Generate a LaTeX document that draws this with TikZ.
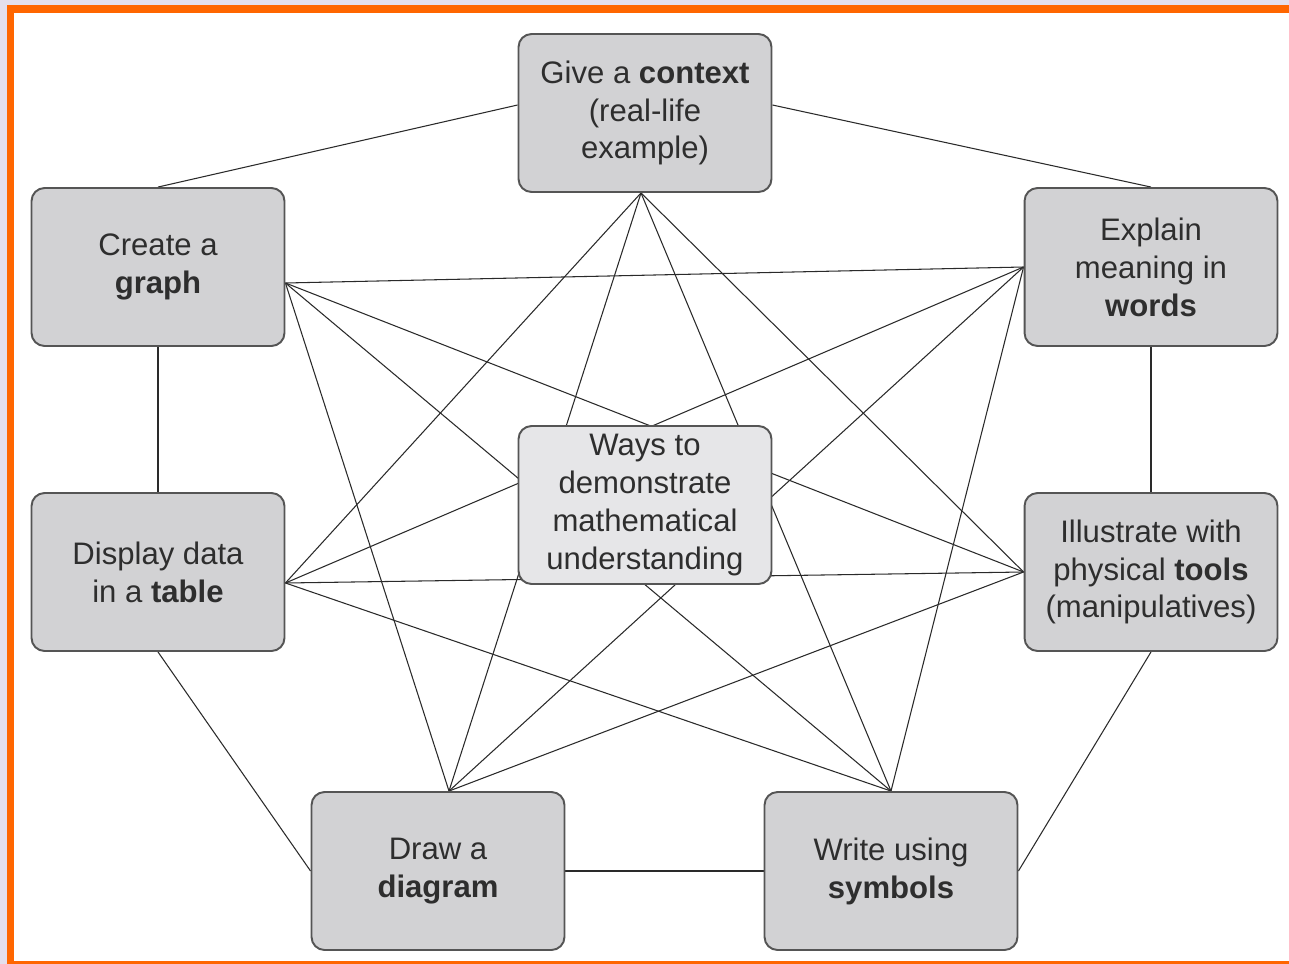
\documentclass[tikz,border=0pt]{standalone}
\usepackage{fontspec}
\setmainfont{Liberation Sans}
\usetikzlibrary{backgrounds}
\definecolor{frameorange}{HTML}{FF6600}
\definecolor{outerlav}{HTML}{E4DFEC}
\definecolor{boxfill}{HTML}{D2D2D4}
\definecolor{hubfill}{HTML}{E6E6E8}
\definecolor{boxline}{HTML}{555555}
\definecolor{textgray}{HTML}{2E2E2E}
\definecolor{linkgray}{HTML}{2A2A2A}
\pgfdeclarelayer{frame}
\pgfdeclarelayer{links}
\pgfsetlayers{frame,links,main}
\tikzset{
  waybox/.style={draw=boxline, line width=1.1pt, fill=boxfill, rounded corners=0.26cm,
    minimum width=5.06cm, minimum height=3.16cm, inner sep=0pt, align=center,
    text=textgray, font=\fontsize{17.7}{21.6}\selectfont},
  hubbox/.style={waybox, fill=hubfill, font=\fontsize{17.7}{21.8}\selectfont},
  link/.style={draw=linkgray, line width=0.6pt}
}
\begin{document}
\begin{tikzpicture}[x=0.02cm,y=-0.02cm]
\begin{pgfonlayer}{frame}
  \fill[outerlav] (0,0) rectangle (1289,964);
  \fill[white] (7,5) rectangle (1289,964);
  \fill[frameorange] (7,5) rectangle (1289,13);
  \fill[frameorange] (7,5) rectangle (14,964);
  \fill[frameorange] (7,961) rectangle (1289,964);
\end{pgfonlayer}

% the seven ways, plus the hub
\node[waybox] (ctx) at (645,113) {Give a \textbf{context}\\(real-life\\example)};
\node[waybox] (graph) at (158,267) {Create a\\\textbf{graph}};
\node[waybox] (words) at (1151,267) {Explain\\meaning in\\\textbf{words}};
\node[waybox] (table) at (158,572) {Display data\\in a \textbf{table}};
\node[waybox] (tools) at (1151,572) {Illustrate with\\physical \textbf{tools}\\(manipulatives)};
\node[waybox] (diag) at (438,871) {Draw a\\\textbf{diagram}};
\node[waybox] (symb) at (891,871) {Write using\\\textbf{symbols}};
\node[hubbox] (hub) at (645,505) {Ways to\\demonstrate\\mathematical\\understanding};

\begin{pgfonlayer}{links}
  % outer ring
  \draw[link] ([yshift=0.16cm]ctx.west) -- (graph.north);
  \draw[link] ([yshift=0.16cm]ctx.east) -- (words.north);
  \draw[link] (graph.south) -- (table.north);
  \draw[link] (words.south) -- (tools.north);
  \draw[link] (table.south) -- (diag.west);
  \draw[link] (tools.south) -- (symb.east);
  \draw[link] (diag.east) -- (symb.west);
  % inner star: every way joined to every other
  \coordinate (cS) at ([xshift=-0.08cm]ctx.south);
  \coordinate (gE) at ([yshift=-0.32cm]graph.east);
  \coordinate (wW) at (words.west);
  \coordinate (tE) at ([yshift=-0.22cm]table.east);
  \coordinate (oW) at (tools.west);
  \coordinate (dN) at ([xshift=0.22cm]diag.north);
  \coordinate (sN) at (symb.north);
  \foreach \a/\b in {cS/tE, cS/oW, cS/dN, cS/sN,
                     gE/wW, gE/oW, gE/dN, gE/sN,
                     wW/tE, wW/dN, wW/sN,
                     tE/oW, tE/sN,
                     oW/dN}
    \draw[link] (\a) -- (\b);
\end{pgfonlayer}
\end{tikzpicture}
\end{document}
